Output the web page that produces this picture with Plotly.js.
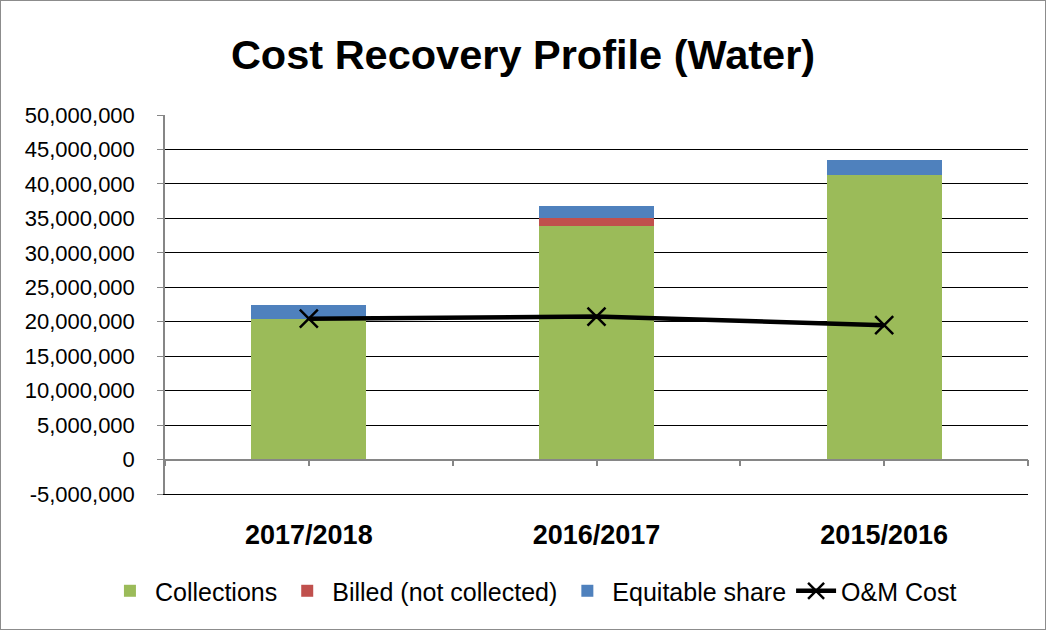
<!DOCTYPE html>
<html>
<head>
<meta charset="utf-8">
<script src="https://cdn.plot.ly/plotly-3.0.1.min.js"></script>
<style>
  body { margin: 0; background: #fff; }
  #costChart { width: 1044px; height: 628px; border: 1px solid #8c8c8c; }
</style>
</head>
<body>
<div id="costChart"></div>
<script>
var years = ["2017/2018", "2016/2017", "2015/2016"];
var collections = [20400000, 33900000, 41300000];
var billedNotCollected = [0, 1170000, 0];
var equitableShare = [1960000, 1730000, 2200000];
var omCost = [20450000, 20750000, 19500000];
var yTickVals = [-5000000, 0, 5000000, 10000000, 15000000, 20000000, 25000000,
  30000000, 35000000, 40000000, 45000000, 50000000];
var yTickText = ["-5,000,000", "0", "5,000,000", "10,000,000", "15,000,000",
  "20,000,000", "25,000,000", "30,000,000", "35,000,000", "40,000,000",
  "45,000,000", "50,000,000"];
var boundaryTicks = [-0.5, 0, 0.5, 1, 1.5, 2, 2.5];

var FONT = "Liberation Sans, Arial, sans-serif";
var CHART = document.getElementById("costChart");

var trace1 = {
  x: years,
  y: collections,
  type: "bar",
  name: "Collections",
  marker: { color: "#9bbb59" },
  hoverinfo: "y",
};

var trace2 = {
  x: years,
  y: billedNotCollected,
  type: "bar",
  name: "Billed (not collected)",
  marker: { color: "#c0504d" },
  hoverinfo: "y",
};

var trace3 = {
  x: years,
  y: equitableShare,
  type: "bar",
  name: "Equitable share",
  marker: { color: "#4f81bd" },
  hoverinfo: "y",
};

var trace4 = {
  x: years,
  y: omCost,
  type: "scatter",
  mode: "lines+markers",
  name: "O&M Cost",
  line: { color: "#000", width: 4.5 },
  marker: {
    symbol: "x-thin-open",
    size: 18,
    color: "#000",
    line: { color: "#000", width: 2.5 },
  },
};

// empty trace so the category axis at zero gets drawn
var axisHelper = {
  x: [],
  y: [],
  type: "scatter",
  xaxis: "x2",
  showlegend: false,
  hoverinfo: "skip",
};

var data = [trace1, trace2, trace3, trace4, axisHelper];

var layout = {
  barmode: "stack",
  bargap: 0.6,
  margin: { l: 164, r: 17, t: 114, b: 135, autoexpand: false },
  paper_bgcolor: "#fff",
  plot_bgcolor: "#fff",
  font: { family: FONT, color: "#000" },
  title: {
    text: "<b>Cost Recovery Profile (Water)</b>",
    font: { family: FONT, size: 41.5, color: "#000" },
    x: 0.5,
    xanchor: "center",
    y: 0.915,
    yanchor: "middle",
  },
  xaxis: {
    type: "category",
    showgrid: false,
    showline: true,
    linecolor: "#000",
    linewidth: 1,
    ticks: "",
    tickangle: 0,
    automargin: false,
    ticklabelstandoff: 17,
    tickfont: { family: FONT, size: 27, weight: "bold" },
  },
  xaxis2: {
    overlaying: "x",
    anchor: "free",
    position: 5 / 55,
    range: [-0.5, 2.5],
    tickvals: boundaryTicks,
    showticklabels: false,
    showgrid: false,
    zeroline: false,
    showline: true,
    linecolor: "#868686",
    linewidth: 1.5,
    ticks: "outside",
    ticklen: 6,
    tickwidth: 1.5,
    tickcolor: "#868686",
  },
  yaxis: {
    range: [-5000000, 50000000],
    tickmode: "array",
    tickvals: yTickVals,
    ticktext: yTickText,
    automargin: false,
    showgrid: true,
    gridcolor: "#000",
    gridwidth: 1,
    zeroline: false,
    showline: true,
    linecolor: "#868686",
    linewidth: 1.5,
    ticks: "outside",
    ticklen: 6,
    tickcolor: "#868686",
    ticklabelstandoff: 18,
    tickfont: { family: FONT, size: 22 },
  },
  legend: {
    orientation: "h",
    traceorder: "normal",
    itemwidth: 40,
    xref: "container",
    x: 0.51,
    xanchor: "center",
    y: -0.256,
    yanchor: "middle",
    font: { family: FONT, size: 25 },
  },
  showlegend: true,
};

Plotly.newPlot(CHART, data, layout, { displayModeBar: false });
</script>
</body>
</html>
